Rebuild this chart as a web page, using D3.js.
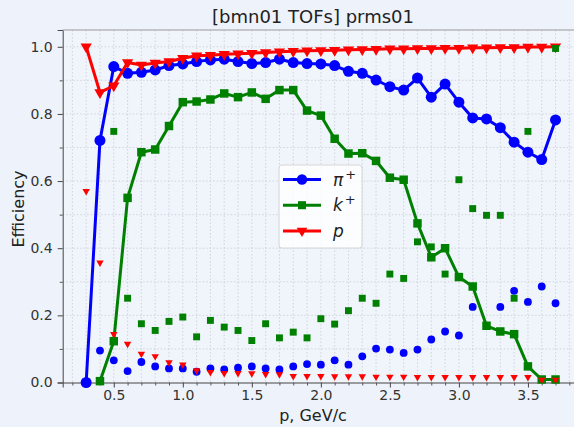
<!DOCTYPE html>
<html>
<head>
<meta charset="utf-8">
<script src="https://cdn.jsdelivr.net/npm/d3@7"></script>
<style>
  body { margin: 0; background: #eef3fb; }
  svg { display: block; font-family: "DejaVu Sans", sans-serif; }
</style>
</head>
<body>
<div id="viz"></div>
<script>
// momentum bins, GeV/c
let p = [0.3, 0.4, 0.5, 0.6, 0.7, 0.8, 0.9, 1.0, 1.1, 1.2, 1.3, 1.4, 1.5, 1.6, 1.7, 1.8, 1.9, 2.0,
         2.1, 2.2, 2.3, 2.4, 2.5, 2.6, 2.7, 2.8, 2.9, 3.0, 3.1, 3.2, 3.3, 3.4, 3.5, 3.6, 3.7];

// efficiency lines
let piEff = [0.0, 0.721, 0.941, 0.921, 0.924, 0.931, 0.944, 0.949, 0.956, 0.961, 0.963, 0.956, 0.95, 0.953,
             0.963, 0.953, 0.95, 0.949, 0.944, 0.927, 0.921, 0.901, 0.881, 0.871, 0.907, 0.85, 0.889, 0.835,
             0.788, 0.785, 0.759, 0.716, 0.686, 0.664, 0.782];
let kEff = [null, 0.004, 0.123, 0.55, 0.686, 0.694, 0.764, 0.835, 0.837, 0.843, 0.861, 0.85, 0.864, 0.845,
            0.871, 0.871, 0.81, 0.795, 0.726, 0.682, 0.683, 0.66, 0.61, 0.604, 0.474, 0.373, 0.40, 0.314,
            0.286, 0.169, 0.152, 0.144, 0.048, 0.009, 0.009];
let pEff = [1.0, 0.864, 0.884, 0.953, 0.946, 0.952, 0.956, 0.966, 0.973, 0.975, 0.978, 0.979, 0.981, 0.983,
            0.985, 0.987, 0.988, 0.989, 0.99, 0.991, 0.992, 0.993, 0.994, 0.994, 0.995, 0.995, 0.996, 0.996,
            0.997, 0.997, 0.998, 0.998, 0.999, 0.999, 1.0];

// loose points (no line)
let piOther = [null, 0.095, 0.066, 0.034, 0.061, 0.048, 0.042, 0.042, 0.032, 0.042, 0.039, 0.044, 0.048, 0.042,
               0.039, 0.048, 0.055, 0.053, 0.066, 0.053, 0.078, 0.101, 0.098, 0.088, 0.098, 0.128, 0.152, 0.14,
               0.225, null, 0.225, 0.273, 0.24, 0.286, 0.236];
let kOther = [null, null, 0.748, 0.251, 0.175, 0.155, 0.182, 0.195, 0.136, 0.185, 0.165, 0.155, 0.125, 0.175,
              0.133, 0.15, 0.133, 0.19, 0.174, 0.214, 0.251, 0.236, 0.323, 0.31, 0.419, 0.404, 0.323, 0.604,
              0.518, 0.498, 0.498, 0.251, 0.748, null, 0.995];
let pOther = [0.57, 0.357, 0.144, 0.115, 0.085, 0.078, 0.06, 0.053, 0.036, 0.031, 0.028, 0.028, 0.027, 0.025,
              0.024, 0.019, 0.019, 0.019, 0.018, 0.018, 0.018, 0.017, 0.017, 0.017, 0.016, 0.016, 0.016, 0.016,
              0.016, 0.016, 0.016, 0.016, 0.016, 0.008, 0.008];

let xTicks = [0.5, 1.0, 1.5, 2.0, 2.5, 3.0, 3.5];
let yTicks = [0.0, 0.2, 0.4, 0.6, 0.8, 1.0];

let dimensions = {
    width: 574,
    height: 427,
    margins: { top: 30, right: -5, bottom: 44.5, left: 62.7 }
};
dimensions.boundedWidth = dimensions.width - dimensions.margins.left - dimensions.margins.right;
dimensions.boundedHeight = dimensions.height - dimensions.margins.top - dimensions.margins.bottom;

const viz = d3.select('#viz').append('svg')
    .attr('width', dimensions.width)
    .attr('height', dimensions.height);

const bounds = viz.append('g')
    .attr('transform', `translate(${dimensions.margins.left},${dimensions.margins.top})`);

//scales
const xScale = d3.scaleLinear().domain([0.13, 3.87]).range([0, dimensions.boundedWidth]);
const yScale = d3.scaleLinear().domain([0, 1.05]).range([dimensions.boundedHeight, 0]);

bounds.append('rect')
    .attr('width', dimensions.boundedWidth)
    .attr('height', dimensions.boundedHeight)
    .attr('fill', '#f0f4fb');

//grid, major and minor, every 0.1
const gridX = d3.range(2, 39).map(d => d / 10);
const gridY = d3.range(1, 11).map(d => d / 10);
bounds.append('g').selectAll('line').data(gridX).join('line')
    .attr('x1', d => xScale(d)).attr('x2', d => xScale(d))
    .attr('y1', 0).attr('y2', dimensions.boundedHeight)
    .attr('stroke', '#c9ccd2').attr('stroke-width', 0.8).attr('stroke-dasharray', '1.5,2');
bounds.append('g').selectAll('line').data(gridY).join('line')
    .attr('x1', 0).attr('x2', dimensions.boundedWidth)
    .attr('y1', d => yScale(d)).attr('y2', d => yScale(d))
    .attr('stroke', '#c9ccd2').attr('stroke-width', 0.8).attr('stroke-dasharray', '1.5,2');

//axes
const xAxis = bounds.append('g')
    .attr('transform', `translate(0,${dimensions.boundedHeight})`)
    .call(d3.axisBottom(xScale).tickValues(xTicks).tickFormat(d3.format('.1f')).tickSizeOuter(0).tickSize(5).tickPadding(3));
const xMinor = bounds.append('g')
    .attr('transform', `translate(0,${dimensions.boundedHeight})`)
    .call(d3.axisBottom(xScale).tickValues(gridX.filter(d => Math.round(d * 10) % 5 != 0)).tickFormat('').tickSize(3));
const yAxis = bounds.append('g')
    .call(d3.axisLeft(yScale).tickValues(yTicks).tickFormat(d3.format('.1f')).tickSizeOuter(0).tickSize(5).tickPadding(5));
const yMinor = bounds.append('g')
    .call(d3.axisLeft(yScale).tickValues([0.1, 0.3, 0.5, 0.7, 0.9]).tickFormat('').tickSize(3));

[xAxis, yAxis].forEach(a => {
    a.selectAll('text').attr('font-size', 14).attr('fill', '#333').attr('font-family', 'DejaVu Sans');
    a.select('.domain').attr('stroke', '#444');
    a.selectAll('.tick line').attr('stroke', '#444');
});
[xMinor, yMinor].forEach(a => {
    a.select('.domain').remove();
    a.selectAll('.tick line').attr('stroke', '#555');
});
bounds.append('line')
    .attr('x1', 0).attr('x2', dimensions.boundedWidth).attr('y1', 0).attr('y2', 0)
    .attr('stroke', '#999').attr('stroke-width', 1);

//series
const series = [
    { name: 'pi', color: 'blue', line: piEff, other: piOther, symbol: d3.symbolCircle, size: 95, sizeOther: 48, rot: 0 },
    { name: 'k', color: 'green', line: kEff, other: kOther, symbol: d3.symbolSquare, size: 72, sizeOther: 48, rot: 0 },
    { name: 'p', color: 'red', line: pEff, other: pOther, symbol: d3.symbolTriangle, size: 55, sizeOther: 24, rot: 180 }
];

const lineGen = d3.line()
    .defined(d => d.v != null)
    .x(d => xScale(d.x))
    .y(d => yScale(d.v));

const plotArea = bounds.append('g');

series.forEach(s => {
    const pts = p.map((x, i) => ({ x: x, v: s.line[i] }));
    plotArea.append('path')
        .datum(pts)
        .attr('d', lineGen)
        .attr('fill', 'none')
        .attr('stroke', s.color)
        .attr('stroke-width', 3)
        .attr('stroke-linejoin', 'round');
    plotArea.append('g').selectAll('path')
        .data(pts.filter(d => d.v != null))
        .join('path')
        .attr('d', d3.symbol(s.symbol, s.size))
        .attr('transform', d => `translate(${xScale(d.x)},${yScale(d.v)}) rotate(${s.rot})`)
        .attr('fill', s.color);
});

series.forEach(s => {
    const pts = p.map((x, i) => ({ x: x, v: s.other[i] }));
    plotArea.append('g').selectAll('path')
        .data(pts.filter(d => d.v != null))
        .join('path')
        .attr('d', d3.symbol(s.symbol, s.sizeOther))
        .attr('transform', d => `translate(${xScale(d.x)},${yScale(d.v)}) rotate(${s.rot})`)
        .attr('fill', s.color);
});

//legend
const legend = viz.append('g').attr('transform', 'translate(279,165)');
legend.append('rect')
    .attr('width', 83).attr('height', 83).attr('rx', 3)
    .attr('fill', 'white').attr('fill-opacity', 0.8)
    .attr('stroke', '#d6d6d6');
const labels = [['π', '+'], ['k', '+'], ['p', '']];
series.forEach((s, i) => {
    const y = 14.5 + i * 25.7;
    legend.append('line')
        .attr('x1', 4).attr('x2', 42).attr('y1', y).attr('y2', y)
        .attr('stroke', s.color).attr('stroke-width', 3);
    legend.append('path')
        .attr('d', d3.symbol(s.symbol, s.size * 0.9))
        .attr('transform', `translate(23,${y}) rotate(${s.rot})`)
        .attr('fill', s.color);
    const t = legend.append('text')
        .attr('x', 54).attr('y', y + 6)
        .attr('font-size', 17).attr('font-style', 'italic').attr('fill', '#222');
    t.append('tspan').text(labels[i][0]);
    t.append('tspan').attr('dy', -7).attr('dx', 2).attr('font-size', 13).attr('font-style', 'normal').text(labels[i][1]);
});

//titles
viz.append('text')
    .attr('x', 313).attr('y', 23)
    .attr('text-anchor', 'middle')
    .attr('font-size', 18).attr('fill', '#222')
    .text('[bmn01 TOFs] prms01');
viz.append('text')
    .attr('x', 313).attr('y', 421)
    .attr('text-anchor', 'middle')
    .attr('font-size', 16).attr('fill', '#222')
    .text('p, GeV/c');
viz.append('text')
    .attr('transform', 'translate(24,209) rotate(-90)')
    .attr('text-anchor', 'middle')
    .attr('font-size', 16).attr('fill', '#222')
    .text('Efficiency');
</script>
</body>
</html>
